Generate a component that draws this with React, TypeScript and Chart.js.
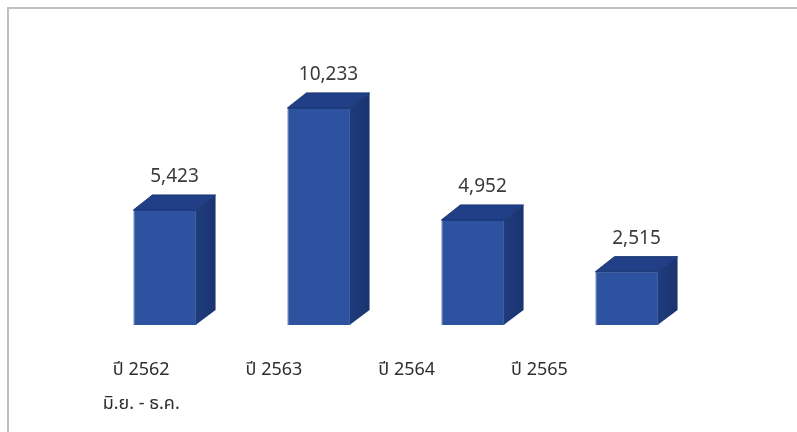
import React, { useEffect, useRef } from "react";
import { Chart, registerables } from "chart.js";

Chart.register(...registerables);

const categories: string[][] = [["ปี 2562", "มิ.ย. - ธ.ค."], ["ปี 2563"], ["ปี 2564"], ["ปี 2565"]];
const values: number[] = [5423, 10233, 4952, 2515];
const valueLabels: string[] = ["5,423", "10,233", "4,952", "2,515"];

const DX = 19;
const DY = 15;
const FONT = '"Noto Sans", "Noto Sans Thai", "Open Sans", sans-serif';

const box3d = {
  id: "box3d",
  afterDatasetsDraw(chart: any) {
    const ctx = chart.ctx;
    const meta = chart.getDatasetMeta(0);
    meta.data.forEach((bar: any, i: number) => {
      const { x, y, base, width } = bar.getProps(["x", "y", "base", "width"], true);
      const l = x - width / 2;
      const r = x + width / 2;
      ctx.save();
      // side face
      ctx.beginPath();
      ctx.moveTo(r - 1, y);
      ctx.lineTo(r + DX, y - DY);
      ctx.lineTo(r + DX, base - DY);
      ctx.lineTo(r - 1, base);
      ctx.closePath();
      const sg = ctx.createLinearGradient(r, 0, r + DX, 0);
      sg.addColorStop(0, "#1e3b7c");
      sg.addColorStop(1, "#1a346f");
      ctx.fillStyle = sg;
      ctx.fill();
      // top face
      ctx.beginPath();
      ctx.moveTo(l, y);
      ctx.lineTo(l + DX, y - DY);
      ctx.lineTo(r + DX, y - DY);
      ctx.lineTo(r - 1, y);
      ctx.closePath();
      ctx.fillStyle = "#213f86";
      ctx.fill();
      ctx.strokeStyle = "#1a3574";
      ctx.lineWidth = 1;
      ctx.stroke();
      // value label
      ctx.fillStyle = "#3a3a3a";
      ctx.font = `19px ${FONT}`;
      ctx.textAlign = "center";
      ctx.textBaseline = "middle";
      ctx.fillText(valueLabels[i], x + DX / 2, y - 33);
      // category labels with perspective shift
      const lx = x * 0.862 - 1;
      ctx.fillStyle = "#2e2e2e";
      ctx.font = `18px ${FONT}`;
      categories[i].forEach((line, j) => {
        ctx.fillText(line, lx, base + 45 + j * 34);
      });
      ctx.restore();
    });
  },
};

export default function App() {
  const ref = useRef<HTMLCanvasElement>(null);
  useEffect(() => {
    if (!ref.current) return;
    const chart = new Chart(ref.current, {
      type: "bar",
      data: {
        labels: categories.map((c) => c[0]),
        datasets: [
          {
            data: values,
            backgroundColor: (c: any) => {
              const ch = c.chart;
              const el = ch.getDatasetMeta(0).data[c.dataIndex];
              if (!el || !Number.isFinite(el.x) || !Number.isFinite(el.width)) return "#2c52a0";
              const w = el.width;
              const g = ch.ctx.createLinearGradient(el.x - w / 2, 0, el.x + w / 2, 0);
              g.addColorStop(0, "#284c9a");
              g.addColorStop(0.5, "#2f56a6");
              g.addColorStop(1, "#2a4f9e");
              return g;
            },
            borderColor: "#22448e",
            borderWidth: 1,
            categoryPercentage: 1,
            barPercentage: 0.41,
          },
        ],
      },
      options: {
        animation: false,
        responsive: false,
        maintainAspectRatio: false,
        layout: { padding: { left: 88, right: 93, top: 28, bottom: 107 } },
        plugins: { legend: { display: false }, tooltip: { enabled: false } },
        scales: {
          x: { display: false },
          y: { display: false, min: 0, max: 14000 },
        },
      },
      plugins: [box3d],
    });
    return () => chart.destroy();
  }, []);
  return (
    <div style={{ position: "fixed", left: 0, top: 0, width: 797, height: 432, background: "#fff", overflow: "hidden" }}>
      <div
        style={{
          position: "absolute",
          left: 7,
          top: 7,
          width: 800,
          height: 440,
          borderTop: "2px solid #c0c0c0",
          borderLeft: "2px solid #c0c0c0",
        }}
      />
      <canvas ref={ref} width={797} height={432} style={{ position: "absolute", left: 0, top: 0 }} />
    </div>
  );
}
